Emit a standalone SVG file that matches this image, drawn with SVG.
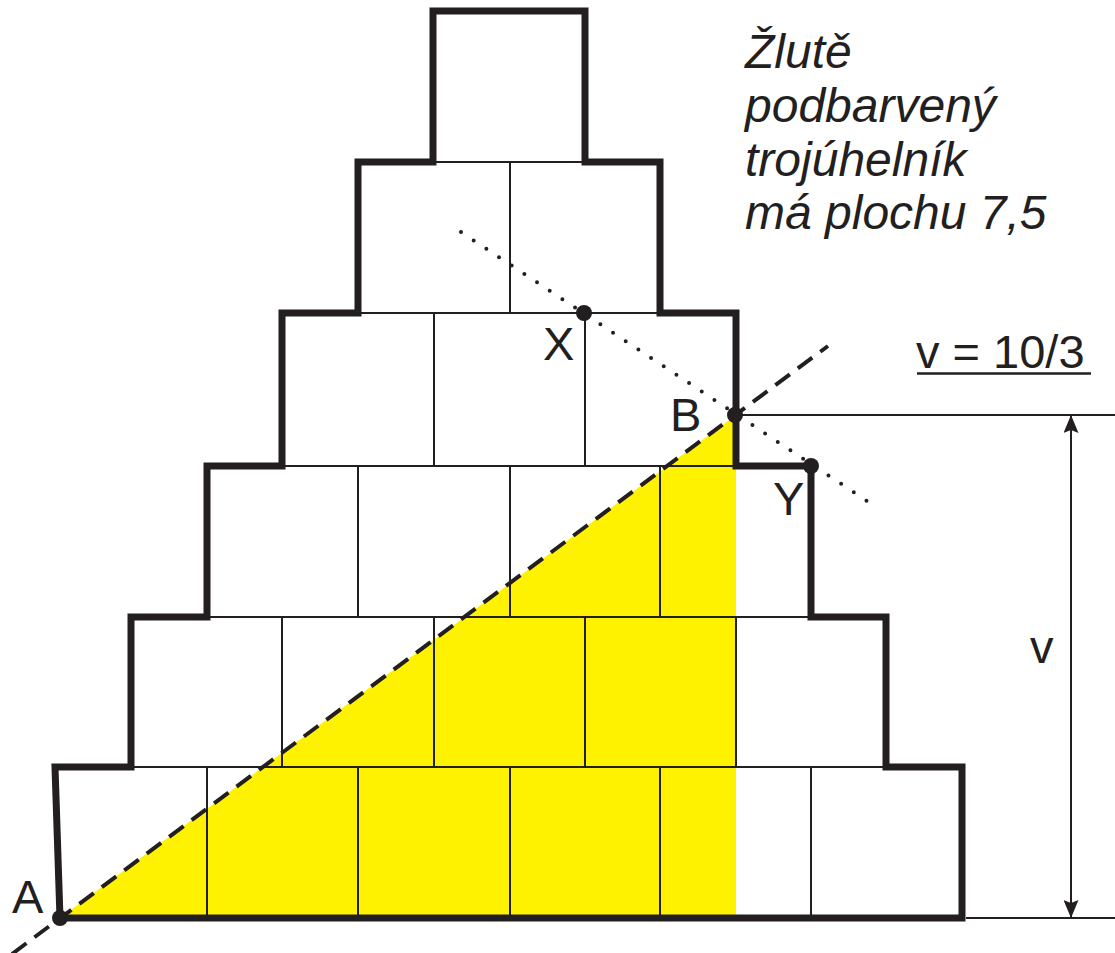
<svg xmlns="http://www.w3.org/2000/svg" width="1115" height="953" viewBox="0 0 1115 953">
<defs>
<style>
.thin{stroke:#231f20;stroke-width:2;fill:none}
.thick{stroke:#231f20;stroke-width:7;fill:none;stroke-linejoin:miter;stroke-linecap:square}
.dash{stroke:#231f20;stroke-width:4;fill:none;stroke-dasharray:18 10}
.dot{stroke:#231f20;stroke-width:4;fill:none;stroke-dasharray:0 15.2;stroke-linecap:round}
.pt{fill:#231f20}
.lbl{font-family:"Liberation Sans",Arial,sans-serif;font-size:47px;fill:#231f20}
.it{font-family:"Liberation Sans",Arial,sans-serif;font-size:48px;font-style:italic;fill:#231f20}
</style>
<marker id="arr" viewBox="0 0 18 15" refX="18" refY="7.5" markerWidth="18" markerHeight="15" markerUnits="userSpaceOnUse" orient="auto-start-reverse">
<path d="M0 0 L18 7.5 L0 15 L3 7.5 Z" fill="#231f20"/>
</marker>
</defs>
<rect width="1115" height="953" fill="#fff"/>
<g id="yellow-triangle">
<polygon points="60,918 736,415 736,918" fill="#fff200"/>
</g>
<g id="grid">
<path class="thin" d="M131 767H886M207 617H811M282 466H736M358 313H660M433 162H585"/>
<path class="thin" d="M207 767V918M358 767V918M510 767V918M660 767V918M811 767V918"/>
<path class="thin" d="M282 617V767M434 617V767M585 617V767M736 617V767"/>
<path class="thin" d="M358 466V617M510 466V617M660 466V617"/>
<path class="thin" d="M434 313V466M585 313V466"/>
<path class="thin" d="M510 162V313"/>
</g>
<g id="outline">
<path class="thick" d="M60 918L55 767H131V617H207V466H282V313H358V162H433V11H585V162H660V313H736V466H811V617H886V767H962V918Z"/>
</g>
<g id="connectors">
<line class="thin" x1="736" y1="415" x2="1115" y2="415"/>
<line class="thin" x1="966" y1="918" x2="1115" y2="918"/>
<line class="thin" x1="1071" y1="415" x2="1071" y2="918" marker-start="url(#arr)" marker-end="url(#arr)"/>
<line class="dash" x1="12" y1="954" x2="828" y2="346"/>
<line class="dot" x1="461" y1="232" x2="870" y2="503"/>
<line x1="917" y1="373.5" x2="1091" y2="373.5" stroke="#231f20" stroke-width="2.5"/>
</g>
<g id="points">
<circle class="pt" cx="60" cy="918" r="8"/>
<circle class="pt" cx="735" cy="415" r="8"/>
<circle class="pt" cx="584" cy="313" r="8"/>
<circle class="pt" cx="811" cy="466" r="8"/>
</g>
<g id="labels">
<text class="lbl" x="12" y="913">A</text>
<text class="lbl" x="670" y="431">B</text>
<text class="lbl" x="543" y="360">X</text>
<text class="lbl" x="773" y="515">Y</text>
<text class="lbl" x="1030" y="663">v</text>
<text class="lbl" x="916" y="368">v = 10/3</text>
</g>
<g id="note">
<text class="it" x="745" y="68">Žlutě</text>
<text class="it" x="745" y="122">podbarvený</text>
<text class="it" x="745" y="176">trojúhelník</text>
<text class="it" x="745" y="229">má plochu 7,5</text>
</g>
</svg>
